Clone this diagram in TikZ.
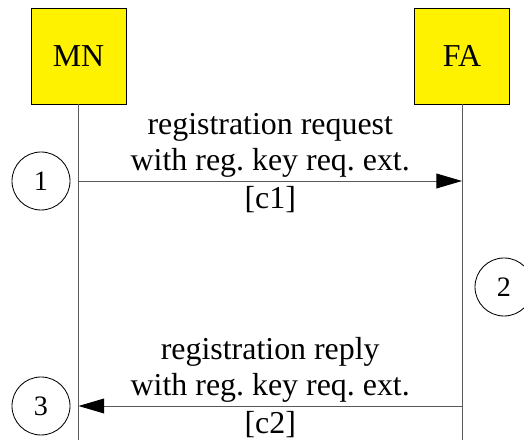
\documentclass[tikz,border=0pt]{standalone}
\usepackage{fontspec}
\setmainfont{Liberation Serif}
\usetikzlibrary{arrows.meta, positioning}
\frenchspacing

\begin{document}
\begin{tikzpicture}[
    entity/.style={draw, fill=yellow, line width=.7pt, minimum width=2.375cm,
      minimum height=2.4cm, inner sep=0pt, font=\fontsize{22.7}{26}\selectfont},
    lifeline/.style={draw=black!65, line width=.7pt},
    msg/.style={lifeline, -{Triangle[length=.64cm, width=.37cm, color=black]}},
    lbl/.style={align=center, font=\fontsize{22.7}{25.6}\selectfont},
    stepno/.style={draw, circle, minimum size=1.45cm, inner sep=0pt,
      line width=.6pt, font=\fontsize{20}{24}\selectfont}]
    \useasboundingbox (0,0) rectangle (13.1,11);

    % entities
    \node[entity] (mn) at (1.9625,9.6) {MN};
    \node[entity] (fa) at (11.55,9.6) {FA};

    % lifelines
    \coordinate (mnend) at (mn |- 0,0);
    \coordinate (faend) at (fa |- 0,0);
    \draw[lifeline] (mn) -- (mnend);
    \draw[lifeline] (fa) -- (faend);

    % message points on the lifelines
    \coordinate (reqmn) at (mn |- 0,6.475);
    \coordinate (reqfa) at (fa |- 0,6.475);
    \coordinate (repmn) at (mn |- 0,0.85);
    \coordinate (repfa) at (fa |- 0,0.85);

    % registration request
    \draw[msg] (reqmn) -- (reqfa)
      node[lbl, midway, above, inner sep=.08cm] {registration request\\with reg. key req. ext.}
      node[lbl, midway, below, inner sep=.12cm] {[c1]};

    % registration reply
    \draw[msg] (repfa) -- (repmn)
      node[lbl, midway, above, inner sep=.08cm] {registration reply\\with reg. key req. ext.}
      node[lbl, midway, below, inner sep=.12cm] {[c2]};

    % steps
    \node[stepno] (s1) at (1.025,6.475) {1};
    \node[stepno] (s2) at (12.6,3.825) {2};
    \node[stepno] (s3) at (1.025,0.85) {3};
\end{tikzpicture}
\end{document}
